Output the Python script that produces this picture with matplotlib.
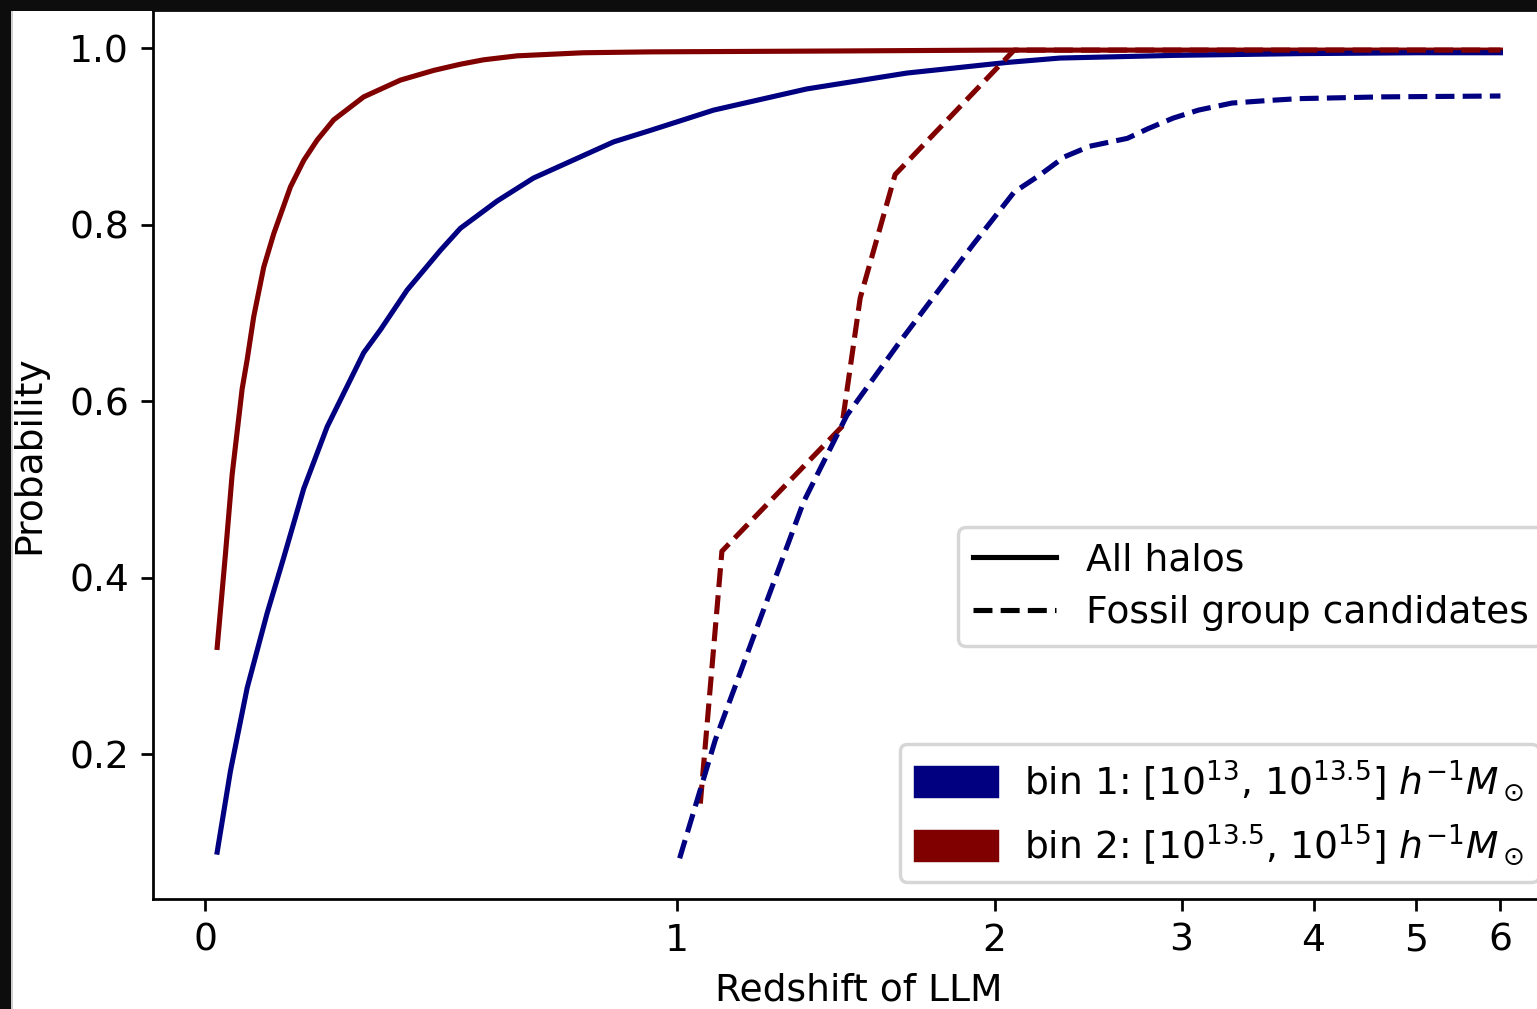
import numpy as np
import matplotlib
matplotlib.use("Agg")
import matplotlib.pyplot as plt
from matplotlib.lines import Line2D
from matplotlib.patches import Patch, Rectangle

# ---------------- data ----------------
z_ticks = [0, 1, 2, 3, 4, 5, 6]
z_tick_labels = ["0", "1", "2", "3", "4", "5", "6"]

# bin 2, all halos (solid red)
red_all_z = [0.0248, 0.0424, 0.0566, 0.0778, 0.0884, 0.1024, 0.1236, 0.1449, 0.1803,
             0.2085, 0.2369, 0.2721, 0.3357, 0.4136, 0.4842, 0.5408, 0.590, 0.661,
             0.801, 0.944, 1.5, 2.0, 3.0, 4.0, 5.0, 6.0]
red_all_p = [0.321, 0.427, 0.517, 0.614, 0.647, 0.696, 0.752, 0.790, 0.843,
             0.873, 0.896, 0.919, 0.945, 0.964, 0.975, 0.982, 0.987, 0.9915,
             0.995, 0.996, 0.997, 0.998, 0.998, 0.998, 0.998, 0.998]

# bin 1, all halos (solid blue)
blue_all_z = [0.0248, 0.053, 0.0884, 0.1309, 0.1661, 0.2085, 0.2581, 0.3357, 0.3712,
              0.4278, 0.4984, 0.5408, 0.619, 0.696, 0.866, 0.944, 1.116, 1.409, 1.724,
              2.065, 2.35, 2.955, 3.89, 5.0, 6.0]
blue_all_p = [0.089, 0.181, 0.275, 0.360, 0.423, 0.501, 0.571, 0.655, 0.681,
              0.726, 0.771, 0.796, 0.827, 0.853, 0.894, 0.907, 0.930, 0.954, 0.972,
              0.984, 0.989, 0.992, 0.994, 0.995, 0.995]

# bin 2, fossil group candidates (dashed red)
red_fossil_z = [1.074, 1.142, 1.519, 1.577, 1.687, 2.104, 3.0, 4.0, 5.0, 6.0]
red_fossil_p = [0.144, 0.430, 0.571, 0.717, 0.857, 0.998, 0.998, 0.998, 0.998, 0.998]

# bin 1, fossil group candidates (dashed blue)
blue_fossil_z = [1.009, 1.121, 1.399, 1.535, 1.703, 1.933, 2.104, 2.239, 2.373, 2.508,
                 2.710, 2.821, 2.956, 3.128, 3.382, 3.667, 3.89, 4.675, 6.0]
blue_fossil_p = [0.082, 0.216, 0.486, 0.584, 0.668, 0.778, 0.837, 0.856, 0.877, 0.889,
                 0.898, 0.909, 0.921, 0.930, 0.938, 0.941, 0.943, 0.945, 0.946]

bin_labels = [r"bin 1: [$10^{13}$, $10^{13.5}$] $h^{-1}M_\odot$",
              r"bin 2: [$10^{13.5}$, $10^{15}$] $h^{-1}M_\odot$"]
style_labels = ["All halos", "Fossil group candidates"]

# ---------------- style ----------------
BLUE = "#000080"
RED = "#800000"
FS = 11
DPI = 246
plt.rcParams["font.family"] = ["DejaVu Sans"]
plt.rcParams["font.size"] = FS

# non-linear redshift axis: positions of the tick redshifts along the axis
axis_pos = np.array([205.0, 676.5, 994.5, 1181.5, 1313.5, 1416.0, 1500.5])
zt = np.array(z_ticks, dtype=float)


def fwd(z):
    z = np.asarray(z, dtype=float)
    shp = z.shape
    z1 = np.atleast_1d(z).ravel()
    out = np.interp(z1, zt, axis_pos)
    lo = z1 < zt[0]
    hi = z1 > zt[-1]
    out[lo] = axis_pos[0] + (z1[lo] - zt[0]) * (axis_pos[1] - axis_pos[0]) / (zt[1] - zt[0])
    out[hi] = axis_pos[-1] + (z1[hi] - zt[-1]) * (axis_pos[-1] - axis_pos[-2]) / (zt[-1] - zt[-2])
    return out.reshape(shp)


def inv(p):
    p = np.asarray(p, dtype=float)
    shp = p.shape
    p1 = np.atleast_1d(p).ravel()
    out = np.interp(p1, axis_pos, zt)
    lo = p1 < axis_pos[0]
    hi = p1 > axis_pos[-1]
    out[lo] = zt[0] + (p1[lo] - axis_pos[0]) * (zt[1] - zt[0]) / (axis_pos[1] - axis_pos[0])
    out[hi] = zt[-1] + (p1[hi] - axis_pos[-1]) * (zt[-1] - zt[-2]) / (axis_pos[-1] - axis_pos[-2])
    return out.reshape(shp)


W, H = 1537, 1009
fig = plt.figure(figsize=(W / DPI, H / DPI), dpi=DPI)
ax = fig.add_axes([153 / W, (H - 898.7) / H, 1411.6 / W, 889.0 / H])
ax.set_xscale("function", functions=(fwd, inv))

ax.plot(red_all_z, red_all_p, color=RED, lw=1.5, ls="-")
ax.plot(blue_all_z, blue_all_p, color=BLUE, lw=1.5, ls="-")
ax.plot(red_fossil_z, red_fossil_p, color=RED, lw=1.5, ls="--")
ax.plot(blue_fossil_z, blue_fossil_p, color=BLUE, lw=1.5, ls="--")

ax.set_xticks(z_ticks)
ax.set_xticklabels(z_tick_labels)
ax.set_yticks([0.2, 0.4, 0.6, 0.8, 1.0])
ax.minorticks_off()
ax.set_xlabel("Redshift of LLM")
ax.set_ylabel("Probability", labelpad=6.5)

leg2 = ax.legend([Patch(color=BLUE), Patch(color=RED)], bin_labels,
                 loc="lower right",
                 bbox_to_anchor=((1539 - 153) / 1411.6, (898.7 - 882) / 889.0),
                 borderaxespad=0, handlelength=2.2, handleheight=0.8,
                 handletextpad=0.7, fontsize=FS)
ax.add_artist(leg2)
ax.legend([Line2D([], [], color="k", lw=1.5, ls="-"),
           Line2D([], [], color="k", lw=1.5, ls="--")], style_labels,
          loc="upper right",
          bbox_to_anchor=((1544 - 153) / 1411.6, (898.7 - 527) / 889.0),
          borderaxespad=0, handlelength=2.2, labelspacing=0.45, fontsize=FS)

# dark screenshot border (top and left)
fig.patches.append(Rectangle((0, 1 - 11 / H), 1, 11 / H, transform=fig.transFigure,
                             facecolor="#0d0d0d", edgecolor="none", zorder=10))
fig.patches.append(Rectangle((0, 0), 11 / W, 1, transform=fig.transFigure,
                             facecolor="#0d0d0d", edgecolor="none", zorder=10))
fig.patches.append(Rectangle((11 / W, 0), 2 / W, 1 - 11 / H, transform=fig.transFigure,
                             facecolor="#cfcfcf", edgecolor="none", zorder=10))

fig.savefig("out.png", dpi=DPI)
